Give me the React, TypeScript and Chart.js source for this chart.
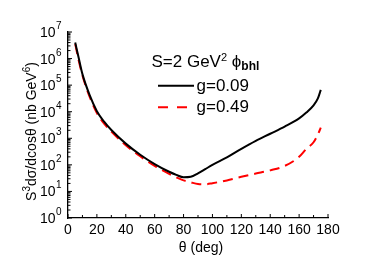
import React, { useEffect, useRef } from 'react';
import { Chart, registerables } from 'chart.js';

Chart.register(...registerables);

const thetaDeg = [5, 7.5, 10, 15, 20, 25, 30, 40, 50, 60, 70, 75, 80, 85, 90, 95, 100, 110, 120, 130, 140, 150, 160, 165, 170, 173, 175];
const gBlack = [4.0e6, 1.0e6, 2.6e5, 4.2e4, 1.05e4, 4200, 2040, 630, 240, 107, 55, 42, 34, 35.5, 48, 69, 100, 190, 400, 800, 1480, 2750, 5600, 9300, 17400, 31600, 66000];
const gRed = [3.5e6, 8.0e5, 2.3e5, 3.6e4, 8900, 3550, 1780, 550, 210, 91, 46, 34, 26, 22, 19, 18.6, 20.4, 26, 35.5, 47, 62, 91, 200, 400, 710, 1400, 2500];
const seriesLabels = ['g=0.09', 'g=0.49'];
const yExponents = [0, 1, 2, 3, 4, 5, 6, 7];
const xTickStep = 20;
const xMinorStep = 10;

const FONT = '"Liberation Sans", Arial, Helvetica, sans-serif';

const decorPlugin = {
  id: 'decor',
  afterDraw(chart: any) {
    const ctx = chart.ctx as CanvasRenderingContext2D;
    const xs = chart.scales.x;
    const ys = chart.scales.y;
    const area = chart.chartArea;
    ctx.save();
    ctx.strokeStyle = '#000';
    ctx.fillStyle = '#000';
    ctx.lineWidth = 1;

    // inward ticks on y
    for (let d = 0; d < yExponents.length; d++) {
      const e = yExponents[d];
      const py = ys.getPixelForValue(Math.pow(10, e));
      ctx.beginPath();
      ctx.moveTo(area.left, py);
      ctx.lineTo(area.left + 4, py);
      ctx.stroke();
      if (d < yExponents.length - 1) {
        for (let m = 2; m <= 9; m++) {
          const pm = ys.getPixelForValue(m * Math.pow(10, e));
          ctx.beginPath();
          ctx.moveTo(area.left, pm);
          ctx.lineTo(area.left + 2.5, pm);
          ctx.stroke();
        }
      }
    }
    // inward ticks on x
    for (let v = xs.min; v <= xs.max + 0.01; v += xMinorStep) {
      const px = xs.getPixelForValue(v);
      const len = v % xTickStep === 0 ? 4 : 3;
      ctx.beginPath();
      ctx.moveTo(px, area.bottom);
      ctx.lineTo(px, area.bottom - len);
      ctx.stroke();
    }

    // y tick labels 10^n
    ctx.textBaseline = 'alphabetic';
    for (const e of yExponents) {
      const py = ys.getPixelForValue(Math.pow(10, e));
      ctx.font = `14px ${FONT}`;
      ctx.textAlign = 'right';
      ctx.fillText('10', area.left - 12.5, py + 5);
      ctx.font = `10px ${FONT}`;
      ctx.textAlign = 'left';
      ctx.fillText(String(e), area.left - 12, py - 3);
    }

    // y axis title (rotated)
    const drawRich = (segs: { t: string; f: string; dy: number }[], x: number, y: number, align: 'left' | 'center') => {
      let total = 0;
      for (const s of segs) {
        ctx.font = s.f;
        total += ctx.measureText(s.t).width;
      }
      let cx = align === 'center' ? x - total / 2 : x;
      ctx.textAlign = 'left';
      for (const s of segs) {
        ctx.font = s.f;
        ctx.fillText(s.t, cx, y + s.dy);
        cx += ctx.measureText(s.t).width;
      }
    };
    ctx.save();
    ctx.translate(36, 131.5);
    ctx.rotate(-Math.PI / 2);
    drawRich(
      [
        { t: 'S', f: `14px ${FONT}`, dy: 0 },
        { t: '3', f: `10px ${FONT}`, dy: -6 },
        { t: 'dσ/dcosθ (nb GeV', f: `14px ${FONT}`, dy: 0 },
        { t: '6', f: `10px ${FONT}`, dy: -6 },
        { t: ')', f: `14px ${FONT}`, dy: 0 },
      ],
      0,
      0,
      'center'
    );
    ctx.restore();

    // x axis title
    ctx.font = `14px ${FONT}`;
    ctx.textAlign = 'center';
    ctx.fillText('θ (deg)', (area.left + area.right) / 2 + 3, 251.5);

    // legend title
    drawRich(
      [
        { t: 'S=2 GeV', f: `17px ${FONT}`, dy: 0 },
        { t: '2', f: `11px ${FONT}`, dy: -6.5 },
        { t: ' ϕ', f: `17px ${FONT}`, dy: 0 },
        { t: 'bhl', f: `bold 12px ${FONT}`, dy: 3 },
      ],
      151.5,
      67.3,
      'left'
    );

    // legend entries
    ctx.lineWidth = 2;
    ctx.strokeStyle = '#000';
    ctx.setLineDash([]);
    ctx.beginPath();
    ctx.moveTo(158, 85.7);
    ctx.lineTo(194, 85.7);
    ctx.stroke();
    ctx.strokeStyle = '#ff0000';
    ctx.setLineDash([10, 9]);
    ctx.beginPath();
    ctx.moveTo(158, 107.3);
    ctx.lineTo(188, 107.3);
    ctx.stroke();
    ctx.setLineDash([]);
    ctx.font = `17px ${FONT}`;
    ctx.textAlign = 'left';
    ctx.fillStyle = '#000';
    ctx.fillText(seriesLabels[0], 196.5, 90.5);
    ctx.fillText(seriesLabels[1], 196.5, 112);
    ctx.restore();
  },
};

export default function App() {
  const ref = useRef<HTMLCanvasElement | null>(null);
  useEffect(() => {
    document.body.style.margin = '0';
    if (!ref.current) return;
    const chart = new Chart(ref.current, {
      type: 'line',
      data: {
        datasets: [
          {
            label: seriesLabels[0],
            data: thetaDeg.map((t, i) => ({ x: t, y: gBlack[i] })),
            borderColor: '#000000',
            borderWidth: 2,
            pointRadius: 0,
            cubicInterpolationMode: 'monotone',
            fill: false,
          },
          {
            label: seriesLabels[1],
            data: thetaDeg.map((t, i) => ({ x: t, y: gRed[i] })),
            borderColor: '#ff0000',
            borderWidth: 2,
            borderDash: [10, 6],
            pointRadius: 0,
            cubicInterpolationMode: 'monotone',
            fill: false,
          },
        ],
      },
      options: {
        animation: false,
        responsive: false,
        devicePixelRatio: 1,
        layout: { padding: { top: 32, right: 54, left: 0, bottom: 0 } },
        plugins: { legend: { display: false }, tooltip: { enabled: false } },
        scales: {
          x: {
            type: 'linear',
            min: 0,
            max: 180,
            ticks: {
              stepSize: xTickStep,
              color: '#000',
              font: { family: FONT, size: 14 },
              padding: 4,
              maxRotation: 0,
              autoSkip: false,
            },
            grid: { display: false, drawTicks: false },
            border: { display: true, color: '#000', width: 1.3 },
            afterFit: (s: any) => {
              s.height = 44;
            },
          },
          y: {
            type: 'logarithmic',
            min: 1,
            max: 1e7,
            ticks: { display: false },
            grid: { display: false, drawTicks: false },
            border: { display: true, color: '#000', width: 1.3 },
            afterFit: (s: any) => {
              s.width = 68;
            },
          },
        },
      } as any,
      plugins: [decorPlugin],
    });
    return () => chart.destroy();
  }, []);
  return <canvas ref={ref} width={382} height={262} style={{ display: 'block' }} />;
}
